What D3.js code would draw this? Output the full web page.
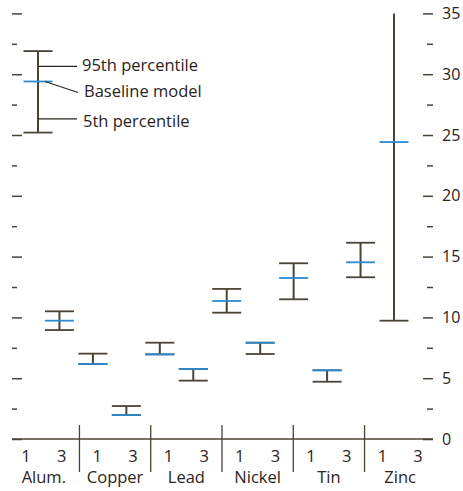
<!DOCTYPE html>
<html>
<head>
<meta charset="utf-8">
<script src="https://cdn.jsdelivr.net/npm/d3@7"></script>
<style>
  body { margin: 0; background: #fff; }
  text { font-family: "Open Sans", "Noto Sans", sans-serif; fill: #2a241d; }
</style>
</head>
<body>
<svg id="chart" width="463" height="491"></svg>
<script>
// ---- data ----
const categories = ["Alum.", "Copper", "Lead", "Nickel", "Tin", "Zinc"];
const models = ["1", "3"];
const baseline = [29.4, 9.73, 6.17, 1.97, 6.96, 5.76, 11.35, 7.92, 13.24, 5.65, 14.53, 24.42];
const p95      = [31.9, 10.5, 7.02, 2.71, 7.92, 5.76, 12.34, 7.92, 14.45, 5.65, 16.14, 35.0];
const p5       = [25.2, 8.96, 6.17, 1.97, 6.96, 4.80, 10.39, 6.99, 11.49, 4.71, 13.30, 9.73];
const yTicks = d3.range(0, 35.01, 2.5);
const yMajorLabels = [0, 5, 10, 15, 20, 25, 30, 35];
const legendLabels = ["95th percentile", "Baseline model", "5th percentile"];

// ---- layout ----
const W = 463, H = 491;
const lineColor = "#4b4336";
const blue = "#2a8ad2";
const svg = d3.select("#chart");

const keys = [];
categories.forEach(c => models.forEach(m => keys.push(c + "|" + m)));
const rows = keys.map((k, i) => ({ key: k, cat: k.split("|")[0], model: k.split("|")[1],
  base: baseline[i], hi: p95[i], lo: p5[i], i }));

const y = d3.scaleLinear().domain([0, 35]).range([439, 13.4]);
const xLabel = d3.scalePoint().domain(keys).range([26, 418]);
const xBar = d3.scalePoint().domain(keys).range([26, 394]);
const legendShift = 12;
const barX = d => xBar(d.key) + (d.i === 0 ? legendShift : 0);
const capW = 29;

// left ticks
const leftAxis = svg.append("g").attr("transform", "translate(12,0)")
  .call(d3.axisRight(y).tickValues(yTicks).tickSize(10).tickFormat(""));
leftAxis.select(".domain").remove();
leftAxis.selectAll(".tick line").attr("stroke", lineColor).attr("stroke-width", 1.5)
  .attr("x2", d => yMajorLabels.includes(d) ? 10 : 5);

// right ticks
const rightAxis = svg.append("g").attr("transform", "translate(423,0)")
  .call(d3.axisRight(y).tickValues(yTicks).tickSize(10).tickPadding(9)
    .tickFormat(d => yMajorLabels.includes(d) ? d3.format("d")(d) : ""));
rightAxis.select(".domain").remove();
rightAxis.selectAll(".tick line").attr("stroke", lineColor).attr("stroke-width", 1.5)
  .attr("x1", d => yMajorLabels.includes(d) ? 0 : 4);
rightAxis.selectAll(".tick text").attr("font-size", 16).attr("fill", "#2a241d")
  .attr("font-family", '"Open Sans", sans-serif');

// baseline axis
svg.append("line").attr("x1", 12).attr("x2", 433).attr("y1", y(0)).attr("y2", y(0))
  .attr("stroke", lineColor).attr("stroke-width", 1.5);

// group separators
const groupEnds = categories.slice(0, -1).map(c => (xLabel(c + "|3") + xLabel(categories[categories.indexOf(c) + 1] + "|1")) / 2);
svg.selectAll("line.sep").data(groupEnds).join("line").attr("class", "sep")
  .attr("x1", d => d).attr("x2", d => d).attr("y1", y(0) - 14).attr("y2", y(0) + 33)
  .attr("stroke", lineColor).attr("stroke-width", 1.3);

// x labels
svg.selectAll("text.sub").data(rows).join("text").attr("class", "sub")
  .attr("x", d => xLabel(d.key)).attr("y", 462).attr("text-anchor", "middle")
  .attr("font-size", 16.5).text(d => d.model);
svg.selectAll("text.cat").data(categories).join("text").attr("class", "cat")
  .attr("x", c => (xLabel(c + "|1") + xLabel(c + "|3")) / 2).attr("y", 483)
  .attr("text-anchor", "middle").attr("font-size", 16.5).text(c => c);

// error bars
const bars = svg.append("g");
bars.selectAll("line.v").data(rows).join("line").attr("class", "v")
  .attr("x1", barX).attr("x2", barX).attr("y1", d => y(d.lo)).attr("y2", d => y(d.hi))
  .attr("stroke", lineColor).attr("stroke-width", 2);
bars.selectAll("line.hi").data(rows.filter(d => d.hi < y.domain()[1])).join("line").attr("class", "hi")
  .attr("x1", d => barX(d) - capW / 2).attr("x2", d => barX(d) + capW / 2)
  .attr("y1", d => y(d.hi)).attr("y2", d => y(d.hi))
  .attr("stroke", lineColor).attr("stroke-width", 1.8);
bars.selectAll("line.lo").data(rows).join("line").attr("class", "lo")
  .attr("x1", d => barX(d) - capW / 2).attr("x2", d => barX(d) + capW / 2)
  .attr("y1", d => y(d.lo)).attr("y2", d => y(d.lo))
  .attr("stroke", lineColor).attr("stroke-width", 1.8);
bars.selectAll("line.base").data(rows).join("line").attr("class", "base")
  .attr("x1", d => barX(d) - capW / 2).attr("x2", d => barX(d) + capW / 2)
  .attr("y1", d => y(d.base)).attr("y2", d => y(d.base))
  .attr("stroke", blue).attr("stroke-width", 1.8);

// legend annotations on first bar
const L = rows[0];
const lx = barX(L);
const textX = 82;
const leaderEnd = 77;
const y95 = y((L.hi + L.base) / 2);
const y5 = y(L.lo + (L.base - L.lo) * 0.27);
const yBaseText = y(L.base) + 10;
const ann = svg.append("g");
ann.append("line").attr("x1", lx).attr("x2", leaderEnd).attr("y1", y95).attr("y2", y95)
  .attr("stroke", "#2a241d").attr("stroke-width", 1.2);
ann.append("line").attr("x1", lx + 7).attr("x2", leaderEnd + 1).attr("y1", y(L.base)).attr("y2", yBaseText + 1)
  .attr("stroke", "#2a241d").attr("stroke-width", 1.2);
ann.append("line").attr("x1", lx).attr("x2", leaderEnd).attr("y1", y5).attr("y2", y5)
  .attr("stroke", "#2a241d").attr("stroke-width", 1.2);
const annY = [y95 - 1.5, yBaseText, y5 + 2];
ann.selectAll("text").data(legendLabels).join("text")
  .attr("x", (d, i) => textX + (i === 1 ? 2 : i === 2 ? 1 : 0))
  .attr("y", (d, i) => annY[i]).attr("dy", "0.36em")
  .attr("font-size", 16.5).text(d => d);
</script>
</body>
</html>
